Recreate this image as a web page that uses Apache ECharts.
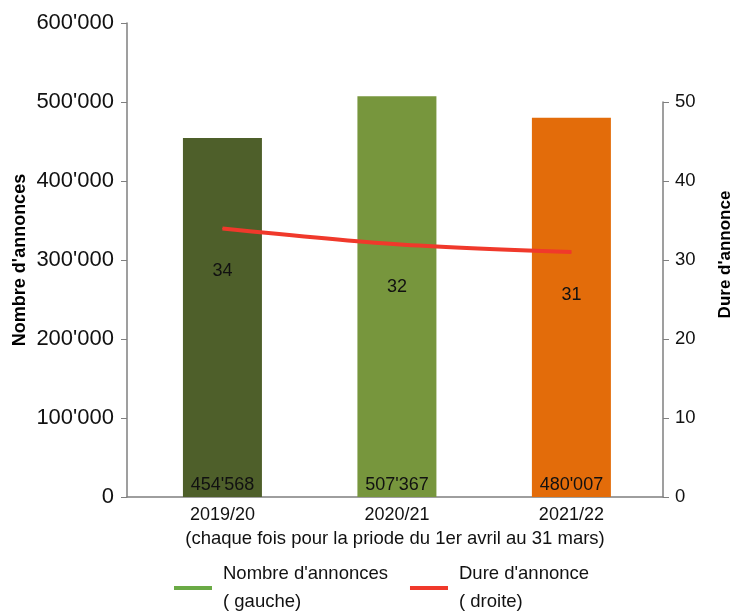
<!DOCTYPE html>
<html>
<head>
<meta charset="utf-8">
<script src="https://cdn.jsdelivr.net/npm/echarts@6/dist/echarts.min.js"></script>
<style>
  html, body { margin: 0; padding: 0; background: #fff; }
  #chart { width: 735px; height: 611px; }
</style>
</head>
<body>
<div id="chart"></div>
<script>
// données
var annees = ['2019/20', '2020/21', '2021/22'];
var nbAnnonces = [454568, 507367, 480007];
var dureeAnnonce = [34, 32, 31];
var couleursBarres = ['#4e5f2a', '#77963d', '#e36c0a'];
var ticksGauche = [0, 100000, 200000, 300000, 400000, 500000, 600000];
var ticksDroite = [0, 10, 20, 30, 40, 50];
var positionsAnnees = [0, 1, 2];

var police = '"Liberation Sans", Arial, sans-serif';

function apostrophe(v) {
    return String(v).replace(/\B(?=(\d{3})+(?!\d))/g, "'");
}

// axe x numérique pour placer les barres comme dans l'original
var axeX = {
    type: 'value',
    min: -0.547,
    max: 2.525,
    splitLine: { show: false }
};

var chart = echarts.init(document.getElementById('chart'));

var option = {
    backgroundColor: '#fff',
    animation: false,
    grid: [
        { left: 127, right: 72, top: 23, bottom: 114, outerBoundsMode: 'none' },
        { left: 127, right: 72, top: 102, bottom: 114, outerBoundsMode: 'none' }
    ],
    legend: {
        left: 169,
        top: 555,
        itemWidth: 38,
        itemHeight: 4,
        itemGap: 22,
        icon: 'rect',
        textStyle: { fontFamily: police, fontSize: 18.5, color: '#111', lineHeight: 28, padding: [0, 0, 0, 6] },
        data: ["Nombre d'annonces\n( gauche)", "Dure d'annonce\n( droite)"]
    },
    xAxis: [Object.assign({}, axeX, {
        gridIndex: 0,
        axisLine: { show: true, onZero: false, lineStyle: { color: '#7f7f7f', width: 1.5 } },
        axisTick: { show: false },
        axisLabel: {
            fontFamily: police, fontSize: 18, color: '#111', margin: 9,
            customValues: positionsAnnees,
            formatter: function (v) { return annees[Math.round(v)]; }
        },
        name: '(chaque fois pour la priode du 1er avril au 31 mars)',
        nameLocation: 'middle',
        nameGap: 32,
        nameTextStyle: { fontFamily: police, fontSize: 18.5, color: '#111' }
    }), Object.assign({}, axeX, {
        gridIndex: 1,
        show: false
    })],
    yAxis: [{
        type: 'value',
        gridIndex: 0,
        min: 0,
        max: 600000,
        interval: 100000,
        axisLine: { show: true, onZero: false, lineStyle: { color: '#7f7f7f', width: 1.5 } },
        axisTick: { show: true, length: 6, lineStyle: { color: '#7f7f7f' } },
        splitLine: { show: false },
        axisLabel: {
            fontFamily: police, fontSize: 22, color: '#111', margin: 13,
            formatter: function (v) { return ticksGauche.indexOf(v) >= 0 ? apostrophe(v) : ''; }
        },
        name: "Nombre d'annonces",
        nameLocation: 'middle',
        nameRotate: 90,
        nameGap: 98,
        nameMoveOverlap: false,
        nameTextStyle: { fontFamily: police, fontSize: 18, fontWeight: 'bold', color: '#000' }
    }, {
        type: 'value',
        gridIndex: 1,
        position: 'right',
        min: 0,
        max: 50,
        interval: 10,
        axisLine: { show: true, onZero: false, lineStyle: { color: '#7f7f7f', width: 1.5 } },
        axisTick: { show: true, length: 6, lineStyle: { color: '#7f7f7f' } },
        splitLine: { show: false },
        axisLabel: {
            fontFamily: police, fontSize: 18.5, color: '#111', margin: 12,
            formatter: function (v) { return ticksDroite.indexOf(v) >= 0 ? String(v) : ''; }
        },
        name: "Dure d'annonce",
        nameLocation: 'middle',
        nameRotate: 90,
        nameGap: 54,
        nameMoveOverlap: false,
        nameTextStyle: { fontFamily: police, fontSize: 17, fontWeight: 'bold', color: '#000', padding: [0, 0, 0, 90] }
    }],
    series: [{
        name: "Nombre d'annonces\n( gauche)",
        type: 'bar',
        xAxisIndex: 0,
        yAxisIndex: 0,
        barWidth: 79,
        itemStyle: { color: '#6aaa45' },
        data: nbAnnonces.map(function (v, i) {
            return { value: [positionsAnnees[i], v], itemStyle: { color: couleursBarres[i] } };
        }),
        label: {
            show: true,
            position: 'insideBottom',
            distance: 3,
            fontFamily: police,
            fontSize: 18,
            color: '#111',
            formatter: function (p) { return apostrophe(p.value[1]); }
        }
    }, {
        name: "Dure d'annonce\n( droite)",
        type: 'line',
        xAxisIndex: 1,
        yAxisIndex: 1,
        data: dureeAnnonce.map(function (v, i) { return [positionsAnnees[i], v]; }),
        smooth: 0.3,
        symbol: 'circle',
        symbolSize: 1,
        lineStyle: { color: '#f0392b', width: 4 },
        itemStyle: { color: '#f0392b' },
        label: {
            show: true,
            position: 'bottom',
            distance: 33,
            fontFamily: police,
            fontSize: 18,
            color: '#111',
            formatter: function (p) { return p.value[1]; }
        }
    }]
};

option && chart.setOption(option);
window.addEventListener('resize', chart.resize);
</script>
</body>
</html>
